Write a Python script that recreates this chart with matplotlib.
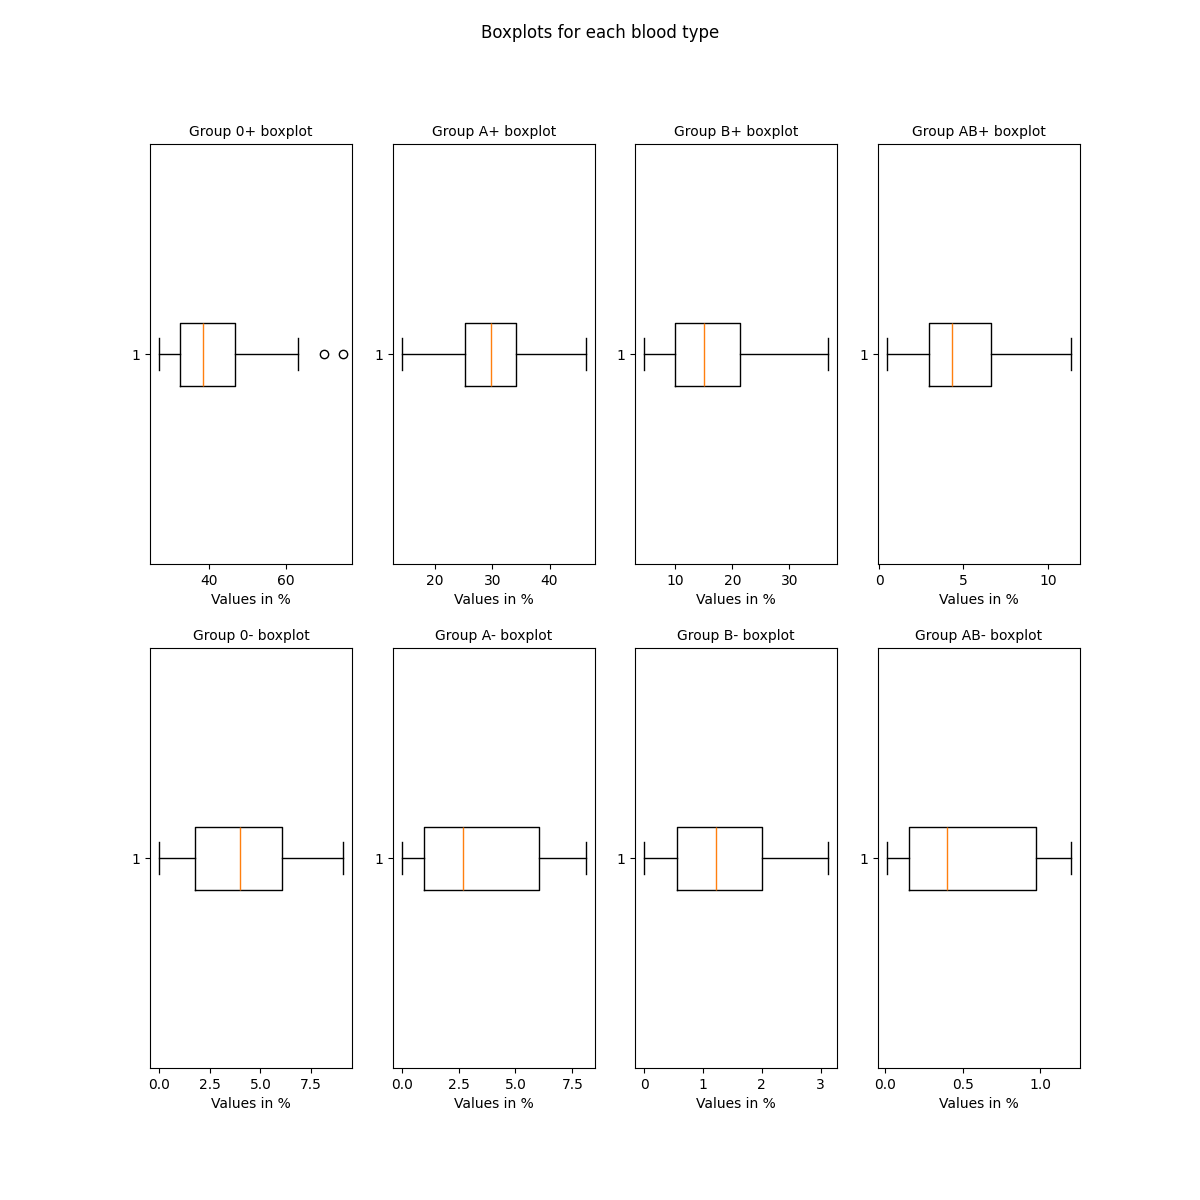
import matplotlib
matplotlib.use("Agg")
import matplotlib.pyplot as plt

groups = ["0+", "A+", "B+", "AB+", "0-", "A-", "B-", "AB-"]
whislo = [27.0, 14.2, 4.6, 0.47, 0.02, 0.01, 0.0, 0.013]
q1 = [32.4, 25.2, 10.0, 2.94, 1.79, 0.98, 0.56, 0.155]
median = [38.4, 29.7, 15.0, 4.32, 4.01, 2.69, 1.225, 0.40]
q3 = [46.9, 34.1, 21.3, 6.65, 6.05, 6.02, 2.01, 0.972]
whishi = [63.3, 46.3, 36.8, 11.36, 9.06, 8.08, 3.13, 1.197]
fliers = [[70.0, 75.0], [], [], [], [], [], [], []]

fig, axes = plt.subplots(2, 4, figsize=(12, 12), dpi=100)
fig.suptitle("Boxplots for each blood type")

for i, ax in enumerate(axes.flat):
    stats = [{
        "label": "1",
        "whislo": whislo[i],
        "q1": q1[i],
        "med": median[i],
        "q3": q3[i],
        "whishi": whishi[i],
        "fliers": fliers[i],
    }]
    ax.bxp(stats, orientation="horizontal")
    ax.set_title(f"Group {groups[i]} boxplot", fontsize=10)
    ax.set_xlabel("Values in %")

fig.savefig("out.png", dpi=100)
